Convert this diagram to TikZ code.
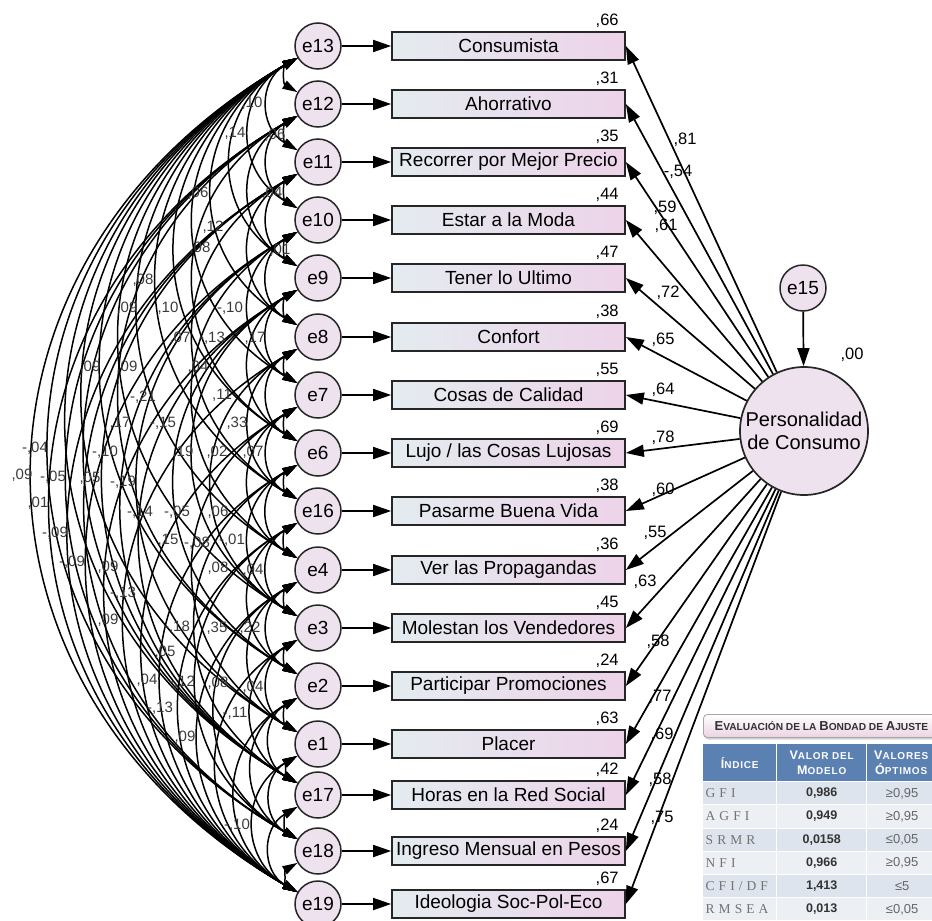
\documentclass[tikz,border=0pt]{standalone}
\usepackage{fontspec}
\setmainfont{Liberation Sans}
\newfontfamily\idxfont[LetterSpace=30]{Liberation Serif}
\newfontfamily\hdrfont[LetterSpace=8]{Liberation Sans}
\usetikzlibrary{arrows.meta,shadows}
\definecolor{epink}{HTML}{EEE2EE}
\definecolor{boxL}{HTML}{E4ECF0}
\definecolor{boxR}{HTML}{EDD3E9}
\definecolor{hdrblue}{HTML}{5B80B2}
\definecolor{rowA}{HTML}{DEE4ED}
\definecolor{rowB}{HTML}{ECEFF4}
\definecolor{labgray}{HTML}{3A3A3A}
\definecolor{ttpink}{HTML}{EBD3E3}
\newcommand{\fsc}[2]{{\fontsize{13}{13}\selectfont #1}{\fontsize{10.2}{11}\selectfont #2}}
\newcommand{\hsc}[2]{{\fontsize{12.5}{12.5}\selectfont #1}{\fontsize{10}{11}\selectfont #2}}
\newcommand{\mkrow}[5]{%
  \node[errc] (u#1) at (318,#4) {#2};
  \node[obsbox] (b#1) at (508.5,#4) {#3};
  \node[coef, anchor=south east] (r#1) at ([xshift=-7pt,yshift=3pt]b#1.north east) {#5};
  \draw[lat] (u#1) -- (b#1);
}
\newcommand{\trow}[6]{%
  \node[tcell, fill=#3, text width=68pt, inner xsep=2.5pt, align=left, text=black!55, font=\idxfont\fontsize{13.5}{13.5}\selectfont] (t#1a) at (703,#2) {#4};
  \node[tcell, fill=#3, minimum width=89pt, font=\bfseries\fontsize{12.5}{12.5}\selectfont, text=black!80] (t#1b) at (777,#2) {#5};
  \node[tcell, fill=#3, minimum width=70pt, font=\fontsize{13}{13}\selectfont, text=black!60] (t#1c) at (867,#2) {#6};
}
\begin{document}
\begin{tikzpicture}[x=1pt,y=-1pt,
  errc/.style={circle,draw=black!85,line width=1.5pt,fill=epink,minimum size=46pt,inner sep=0pt,font=\fontsize{19}{19}\selectfont},
  obsbox/.style={rectangle,draw=black!85,line width=1.7pt,left color=boxL,right color=boxR,minimum width=233pt,minimum height=28pt,inner sep=0pt,font=\fontsize{19}{19}\selectfont},
  latent/.style={circle,draw=black!85,line width=1.7pt,fill=epink,minimum size=128pt,inner sep=0pt,align=center,font=\fontsize{20}{23}\selectfont},
  lat/.style={-{Triangle[length=18pt,width=12pt]},line width=1.7pt},
  cov/.style={{Triangle[length=15pt,width=9pt]}-{Triangle[length=15pt,width=9pt]},line width=1.5pt},
  coef/.style={font=\fontsize{16.5}{16.5}\selectfont,inner sep=0pt},
  covlab/.style={font=\fontsize{15}{15}\selectfont,inner sep=0pt,text=labgray},
  titlebox/.style={rounded corners=4pt,draw=black!35,line width=0.8pt,top color=white,bottom color=ttpink,minimum width=236pt,minimum height=23pt,inner sep=0pt,text=black!80,font=\bfseries,drop shadow={shadow xshift=1pt,shadow yshift=-2pt,opacity=0.35}},
  hdr/.style={fill=hdrblue,text=white,minimum height=37pt,inner sep=0pt,align=center,font=\hdrfont\bfseries\fontsize{12.5}{15}\selectfont,anchor=north west},
  tcell/.style={minimum height=22.2pt,inner sep=0pt,anchor=north west}
]
\useasboundingbox (0,0) rectangle (932,921);

\mkrow{1}{e13}{Consumista}{46}{,66}
\mkrow{2}{e12}{Ahorrativo}{104}{,31}
\mkrow{3}{e11}{Recorrer por Mejor Precio}{162}{,35}
\mkrow{4}{e10}{Estar a la Moda}{220}{,44}
\mkrow{5}{e9}{Tener lo Ultimo}{278}{,47}
\mkrow{6}{e8}{Confort}{337}{,38}
\mkrow{7}{e7}{Cosas de Calidad}{395}{,55}
\mkrow{8}{e6}{Lujo / las Cosas Lujosas}{453}{,69}
\mkrow{9}{e16}{Pasarme Buena Vida}{511}{,38}
\mkrow{10}{e4}{Ver las Propagandas}{570}{,36}
\mkrow{11}{e3}{Molestan los Vendedores}{628}{,45}
\mkrow{12}{e2}{Participar Promociones}{686}{,24}
\mkrow{13}{e1}{Placer}{744}{,63}
\mkrow{14}{e17}{Horas en la Red Social}{795}{,42}
\mkrow{15}{e18}{Ingreso Mensual en Pesos}{851}{,24}
\mkrow{16}{e19}{Ideologia Soc-Pol-Eco}{904}{,67}

% latent factor
\node[latent] (P) at (804,431) {Personalidad\\de Consumo};
\node[errc] (d15) at (803,288) {e15};
\draw[lat] (d15) -- (P);
\node[coef] (z00) at (852,355) {,00};

\foreach \i in {1,...,16} \draw[lat] (P) -- (b\i.east);
\foreach \x/\y/\t [count=\k] in {685/140/{,81},678/172/{-,54},665/208/{,59},666/226/{,61},668/293/{,72},663/340/{,65},663/390/{,64},663/438/{,78},663/490/{,60},655/533/{,55},645/582/{,63},658/642/{,58},660/697/{,77},662/735/{,69},660/780/{,58},662/818/{,75}}
  \node[coef] (l\k) at (\x,\y) {\t};

% covariances
\foreach \a/\b in {1/2,2/3,3/4,4/5,5/6,6/7,7/8,8/9,9/10,10/11,11/12,12/13,13/14,14/15,15/16,
  1/3,2/4,3/5,4/6,5/7,6/8,7/9,8/10,9/11,10/12,11/13,12/14,13/15,14/16,
  1/4,2/5,3/6,4/7,5/8,6/9,7/10,8/11,9/12,10/13,11/14,12/15,13/16,
  1/5,1/6,1/7,1/8,1/9,1/10,1/11,1/12,1/13,1/14,1/15,1/16,
  2/16,3/16,4/16,5/16,6/16,7/16,8/16,9/16,10/16,11/16,12/16,
  2/14,2/15,3/15,3/14,4/14,4/13,5/12,6/11,7/13,8/14,2/8,3/9,4/10,5/11,9/15,10/15,2/12,5/14}
  \draw[cov] (u\a) to[bend right=60,looseness=1.25] (u\b);

\foreach \x/\y/\t [count=\k] in {252/103/{,10},235/133/{,14},275/135/{,06},198/193/{,06},272/193/{,04},213/227/{,12},200/248/{,08},280/250/{,01},143/280/{,08},127/308/{,09},168/308/{,10},230/308/{-,10},180/338/{,07},212/338/{-,13},255/338/{,17},90/367/{,09},127/367/{,09},198/367/{,04},143/397/{-,21},222/395/{,11},120/423/{,17},163/423/{-,15},237/423/{,33},35/448/{-,04},105/452/{-,10},183/452/{,19},217/452/{,02},253/452/{,07},22/475/{,09},53/477/{-,05},90/478/{,05},123/482/{-,19},38/503/{,01},140/512/{-,14},177/512/{-,05},218/512/{,06},55/533/{-,09},168/540/{,15},197/543/{-,08},232/540/{-,01},72/562/{-,09},108/567/{,09},218/568/{,08},253/570/{,04},123/593/{-,13},108/620/{,09},177/627/{-,18},217/628/{,35},250/628/{,22},165/652/{,05},147/680/{,04},182/682/{-,12},218/683/{,08},253/687/{,04},160/708/{-,13},235/713/{-,11},185/737/{,09},237/825/{-,10}}
  \node[covlab] (cl\k) at (\x,\y) {\t};

% fit table
\node[titlebox,anchor=west] (tt) at (703,726) {\fsc{E}{VALUACIÓN DE LA} \fsc{B}{ONDAD DE} \fsc{A}{JUSTE}};
\node[hdr,minimum width=73pt] (h1) at (703,744) {\hsc{Í}{NDICE}};
\node[hdr,minimum width=89pt] (h2) at (777,744) {\hsc{V}{ALOR DEL}\\\hsc{M}{ODELO}};
\node[hdr,minimum width=68pt] (h3) at (867,744) {\hsc{V}{ALORES}\\\hsc{Ó}{PTIMOS}};
\trow{1}{782}{rowA}{GFI}{0,986}{≥0,95}
\trow{2}{805.2}{rowB}{AGFI}{0,949}{≥0,95}
\trow{3}{828.4}{rowA}{SRMR}{0,0158}{≤0,05}
\trow{4}{851.6}{rowB}{NFI}{0,966}{≥0,95}
\trow{5}{874.8}{rowA}{CFI/DF}{1,413}{≤5}
\trow{6}{898}{rowB}{RMSEA}{0,013}{≤0,05}
\end{tikzpicture}
\end{document}
